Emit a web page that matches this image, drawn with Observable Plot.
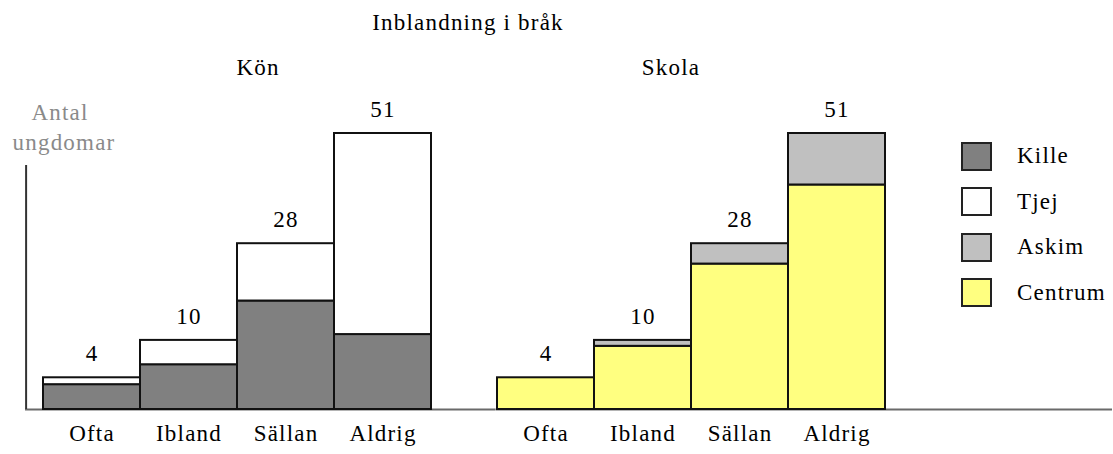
<!DOCTYPE html>
<html>
<head>
<meta charset="utf-8">
<script src="https://cdn.jsdelivr.net/npm/d3@7"></script>
<script src="https://cdn.jsdelivr.net/npm/@observablehq/plot@0.6"></script>
<style>
  html, body { margin: 0; padding: 0; background: #fff; }
  #wrap { position: relative; width: 1113px; height: 454px; overflow: hidden;
          font-family: "Liberation Serif", "Times New Roman", serif; font-size: 23px; letter-spacing: 1.2px; color: #000; }
  #wrap svg { position: absolute; left: 0; top: 0; }
  .lbl { position: absolute; line-height: 30px; white-space: nowrap; }
  .ctr { transform: translateX(-50%); }
  .box { position: absolute; width: 27px; height: 25px; border: 2px solid #222; }
</style>
</head>
<body>
<div id="wrap"></div>
<script>
// ---- data ----
const title = "Inblandning i bråk";
const yLabel = ["Antal", "ungdomar"];
const groups = ["Kön", "Skola"];
const categories = ["Ofta", "Ibland", "Sällan", "Aldrig"];
const totals = [4, 10, 28, 51];
const kille = [3, 6, 17, 11];
const tjej = [1, 4, 11, 40];
const centrum = [4, 9, 24, 40];
const askim = [0, 1, 4, 11];
const seriesNames = ["Kille", "Tjej", "Askim", "Centrum"];
const seriesColors = ["#808080", "#ffffff", "#c0c0c0", "#ffff80"];

// ---- table built from the arrays ----
const rows = [];
categories.forEach((c, i) => {
  rows.push({group: "Kön", cat: c, series: "Kille", value: kille[i]});
  rows.push({group: "Kön", cat: c, series: "Tjej", value: tjej[i]});
  rows.push({group: "Skola", cat: c, series: "Centrum", value: centrum[i]});
  rows.push({group: "Skola", cat: c, series: "Askim", value: askim[i]});
});
const totalRows = [];
groups.forEach(g => categories.forEach((c, i) => totalRows.push({group: g, cat: c, total: totals[i]})));

// ---- layout ----
const W = 1113, H = 454;
const mLeft = 41, mRight = 226, mTop = 133, mBottom = 45;
const fxPad = 0.14;
const facetW = (W - mLeft - mRight) / (2 - fxPad) * (1 - fxPad);
const bandW = facetW / categories.length;

const plot = Plot.plot({
  width: W,
  height: H,
  marginLeft: mLeft,
  marginRight: mRight,
  marginTop: mTop,
  marginBottom: mBottom,
  style: {fontFamily: "Liberation Serif, Times New Roman, serif", fontSize: "23px", letterSpacing: "1.2px", color: "#000", background: "transparent"},
  fx: {domain: groups, paddingInner: fxPad, paddingOuter: 0, axis: null},
  x: {domain: categories, padding: 0, label: null},
  y: {type: "pow", exponent: 0.85, domain: [0, 51], axis: null},
  color: {domain: seriesNames, range: seriesColors},
  marks: [
    Plot.ruleY([{group: "Kön", v: 0}], {y: "v", fx: "group", insetLeft: -(mLeft - 24), insetRight: -(W - mLeft - mRight - 2 * facetW), stroke: "#6a6a6a", strokeWidth: 2}),
    Plot.ruleY([{group: "Skola", v: 0}], {y: "v", fx: "group", insetRight: -mRight, stroke: "#6a6a6a", strokeWidth: 2}),
    Plot.ruleX([{group: "Kön", cat: categories[0]}], {x: "cat", fx: "group", dx: -(bandW / 2 + (mLeft - 24)), insetTop: 32, stroke: "#333", strokeWidth: 2}),
    Plot.barY(rows.filter(d => d.value > 0), {x: "cat", y: "value", fx: "group", fill: "series", stroke: "#111", strokeWidth: 2, order: null}),
    Plot.text(totalRows, {x: "cat", y: "total", fx: "group", text: d => String(d.total), dy: -24, fill: "#000"}),
    Plot.axisX({tickSize: 0, tickPadding: 15, fill: "#000", label: null})
  ]
});

const wrap = document.getElementById("wrap");
wrap.appendChild(plot);

function addLabel(text, left, centerY, extra = "", cls = "lbl ctr") {
  const d = document.createElement("div");
  d.className = cls;
  d.textContent = text;
  d.style.cssText = `left:${left}px; top:${centerY - 15}px; ${extra}`;
  wrap.appendChild(d);
  return d;
}
addLabel(title, 468, 23);
addLabel(groups[0], 258, 68);
addLabel(groups[1], 671, 68);
addLabel(yLabel[0], 60, 113, "color:#8a8a8a;");
addLabel(yLabel[1], 64, 143, "color:#8a8a8a;");

// legend
seriesNames.forEach((s, i) => {
  const cy = 156 + i * 45.5;
  const b = document.createElement("div");
  b.className = "box";
  b.style.cssText = `left:961px; top:${cy - 14.5}px; background:${seriesColors[i]};`;
  wrap.appendChild(b);
  addLabel(s, 1017, cy, "", "lbl");
});
</script>
</body>
</html>
